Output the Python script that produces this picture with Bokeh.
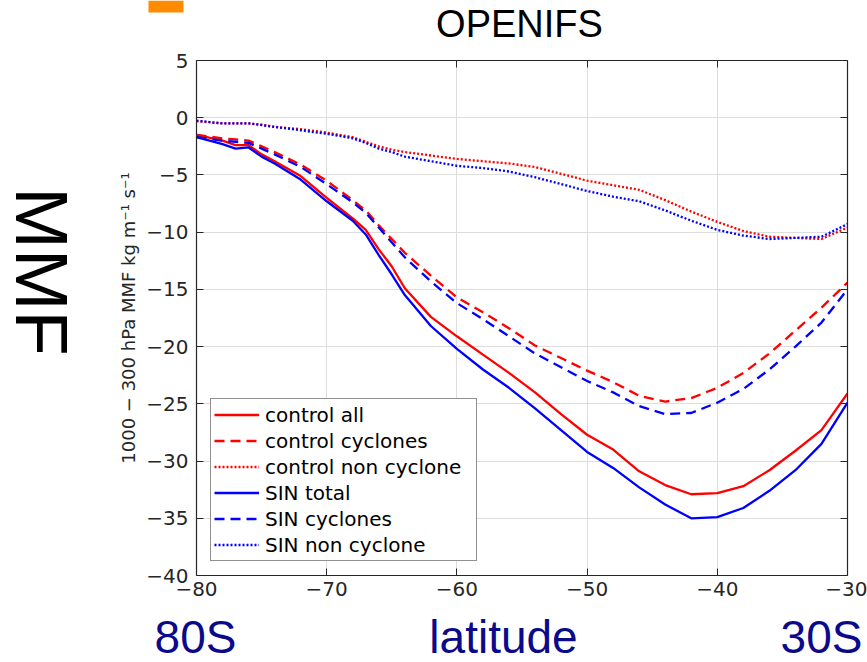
import math
from bokeh.plotting import figure
from bokeh.layouts import row, column
from bokeh.models import (Range1d, LinearAxis, FixedTicker, Legend, LegendItem, Label)
from bokeh.embed import file_html
from bokeh.resources import INLINE

# ---------------- data ----------------
lat = [-80, -78, -77, -76, -75, -74, -72, -70, -68, -67, -66, -65, -64, -62, -60,
       -58, -56, -54, -52, -50, -48, -46, -44, -42, -40, -38, -36, -34, -32, -30]

control_all = [-1.5, -2.0, -2.4, -2.4, -3.2, -3.8, -5.1, -7.0, -8.8, -9.8, -11.5, -13.0,
               -14.9, -17.4, -19.1, -20.7, -22.3, -24.0, -25.9, -27.7, -29.0, -30.9,
               -32.1, -32.9, -32.8, -32.2, -30.8, -29.1, -27.3, -24.1]
control_cyclones = [-1.5, -1.8, -1.9, -2.0, -2.5, -3.0, -4.1, -5.5, -7.2, -8.1, -9.4, -10.6,
                    -11.8, -13.8, -15.7, -17.0, -18.4, -19.9, -21.0, -22.1, -23.1, -24.3,
                    -24.8, -24.5, -23.6, -22.3, -20.6, -18.6, -16.6, -14.4]
control_noncyc = [-0.3, -0.5, -0.5, -0.5, -0.6, -0.8, -1.0, -1.3, -1.7, -2.1, -2.5, -2.8,
                  -3.0, -3.3, -3.6, -3.8, -4.0, -4.3, -4.9, -5.5, -5.9, -6.3,
                  -7.2, -8.2, -9.1, -9.9, -10.4, -10.5, -10.6, -9.6]
sin_total = [-1.7, -2.3, -2.7, -2.6, -3.4, -4.0, -5.4, -7.3, -9.0, -10.2, -12.0, -13.7,
             -15.5, -18.2, -20.2, -22.0, -23.6, -25.4, -27.3, -29.2, -30.6, -32.3,
             -33.8, -35.0, -34.9, -34.1, -32.6, -30.8, -28.5, -24.9]
sin_cyclones = [-1.7, -2.0, -2.1, -2.2, -2.7, -3.2, -4.3, -5.8, -7.4, -8.3, -9.6, -10.9,
                -12.2, -14.3, -16.2, -17.6, -19.1, -20.6, -21.8, -23.0, -24.0, -25.2,
                -25.9, -25.8, -24.9, -23.7, -22.0, -20.0, -17.9, -15.0]
sin_noncyc = [-0.25, -0.5, -0.5, -0.5, -0.65, -0.8, -1.1, -1.4, -1.8, -2.2, -2.7, -3.0,
              -3.4, -3.8, -4.2, -4.4, -4.7, -5.2, -5.8, -6.4, -6.9, -7.3,
              -8.1, -9.0, -9.8, -10.3, -10.6, -10.5, -10.4, -9.3]

x_ticks = [-80, -70, -60, -50, -40, -30]
y_ticks = [5, 0, -5, -10, -15, -20, -25, -30, -35, -40]

series_labels = ["control all", "control cyclones", "control non cyclone",
                 "SIN total", "SIN cyclones", "SIN non cyclone"]

title_text = "OPENIFS"
side_text = "MMF"
y_label = "1000 \u2212 300 hPa MMF kg m\u207b\u00b9 s\u207b\u00b9"
bottom_texts = ["80S", "latitude", "30S"]


def fmt(v):
    return ("\u2212" + str(abs(v))) if v < 0 else str(v)


TICK_FONT = "DejaVu Sans"
AX_COLOR = "#262626"
NAVY = "#0a0a8a"


def blank_fig(w, h, x0, x1, y_top, y_bottom):
    # screen-like coordinates: x grows right, y grows downward
    f = figure(width=w, height=h, output_backend="svg", toolbar_location=None,
               x_range=Range1d(x0, x1), y_range=Range1d(y_bottom, y_top),
               x_axis_location=None, y_axis_location=None,
               min_border_left=0, min_border_right=0, min_border_top=0,
               min_border_bottom=0, outline_line_color=None,
               background_fill_color="white", border_fill_color="white",
               frame_align=False)
    f.grid.visible = False
    return f


# ---------- left strip: big "MMF" ----------
left = blank_fig(108, 662, 0, 108, 0, 662)
left.add_layout(Label(x=41, y=271, text=side_text, text_font="Liberation Sans",
                      text_font_size="74px", text_color="black", text_align="center",
                      text_baseline="middle", angle=-math.pi / 2))

# ---------- top strip: title + orange tab ----------
top = blank_fig(759, 46, 108, 867, 0, 46)
top.quad(left=148, right=183, top=0, bottom=12, fill_color="#ff8c00", line_color=None)
top.add_layout(Label(x=519, y=23, text=title_text, text_font="Liberation Sans",
                     text_font_size="38px", text_color="black", text_align="center",
                     text_baseline="middle"))

# ---------- bottom strip: navy labels ----------
bot = blank_fig(759, 52, 108, 867, 610, 662)
for xx, txt in zip([195, 503, 821], bottom_texts):
    bot.add_layout(Label(x=xx, y=636, text=txt, text_font="Liberation Sans",
                         text_font_size="46px", text_color=NAVY, text_align="center",
                         text_baseline="middle"))

# ---------- main plot ----------
p = figure(width=759, height=564, output_backend="svg", toolbar_location=None,
           x_range=Range1d(-80, -30), y_range=Range1d(-40, 5),
           min_border_left=88, min_border_right=20, min_border_top=14,
           min_border_bottom=35, background_fill_color="white",
           border_fill_color="white", outline_line_color=None, frame_align=False)

for ax, ticks in ((p.xaxis[0], x_ticks), (p.yaxis[0], y_ticks)):
    ax.ticker = FixedTicker(ticks=ticks)
    ax.major_label_overrides = {t: fmt(t) for t in ticks}
    ax.major_label_text_font = TICK_FONT
    ax.major_label_text_font_size = "20px"
    ax.major_label_text_color = AX_COLOR
    ax.axis_line_color = AX_COLOR
    ax.axis_line_width = 1.2
    ax.major_tick_line_color = AX_COLOR
    ax.major_tick_in = 7
    ax.major_tick_out = 0
    ax.minor_tick_line_color = None

p.yaxis[0].major_label_standoff = 8
p.xaxis[0].major_label_standoff = 6
p.yaxis[0].axis_label = y_label
p.yaxis[0].axis_label_text_font = TICK_FONT
p.yaxis[0].axis_label_text_font_style = "normal"
p.yaxis[0].axis_label_text_font_size = "18px"
p.yaxis[0].axis_label_text_color = AX_COLOR
p.yaxis[0].axis_label_standoff = 4

top_ax = LinearAxis(ticker=FixedTicker(ticks=x_ticks))
right_ax = LinearAxis(ticker=FixedTicker(ticks=y_ticks))
for ax, ticks in ((top_ax, x_ticks), (right_ax, y_ticks)):
    ax.major_label_overrides = {t: "" for t in ticks}
    ax.major_label_text_font_size = "0px"
    ax.major_label_standoff = 0
    ax.axis_line_color = AX_COLOR
    ax.axis_line_width = 1.2
    ax.major_tick_line_color = AX_COLOR
    ax.major_tick_in = 7
    ax.major_tick_out = 0
    ax.minor_tick_line_color = None
p.add_layout(top_ax, "above")
p.add_layout(right_ax, "right")

p.xgrid.grid_line_color = "#dddddd"
p.ygrid.grid_line_color = "#dddddd"

styles = [
    (control_all, "#ff0000", "solid"),
    (control_cyclones, "#ff0000", "10 6"),
    (control_noncyc, "#ff0000", "2 2"),
    (sin_total, "#0000ff", "solid"),
    (sin_cyclones, "#0000ff", "10 6"),
    (sin_noncyc, "#0000ff", "2 2"),
]
items = []
for (vals, col, dash), lab in zip(styles, series_labels):
    r = p.line(lat, vals, line_color=col, line_width=2.3, line_dash=dash)
    items.append(LegendItem(label=lab, renderers=[r]))

legend = Legend(items=items, location="bottom_left", margin=14, padding=3,
                spacing=1, glyph_width=45, glyph_height=25, label_height=25,
                label_width=208, label_standoff=6, label_text_font=TICK_FONT,
                label_text_font_size="20px", label_text_color="black",
                border_line_color="#222222", border_line_width=1.2,
                background_fill_color="white", background_fill_alpha=1.0)
p.add_layout(legend, "center")

layout = row(left, column(top, p, bot, spacing=0), spacing=0)

open("out.html", "w").write(file_html(layout, INLINE))
